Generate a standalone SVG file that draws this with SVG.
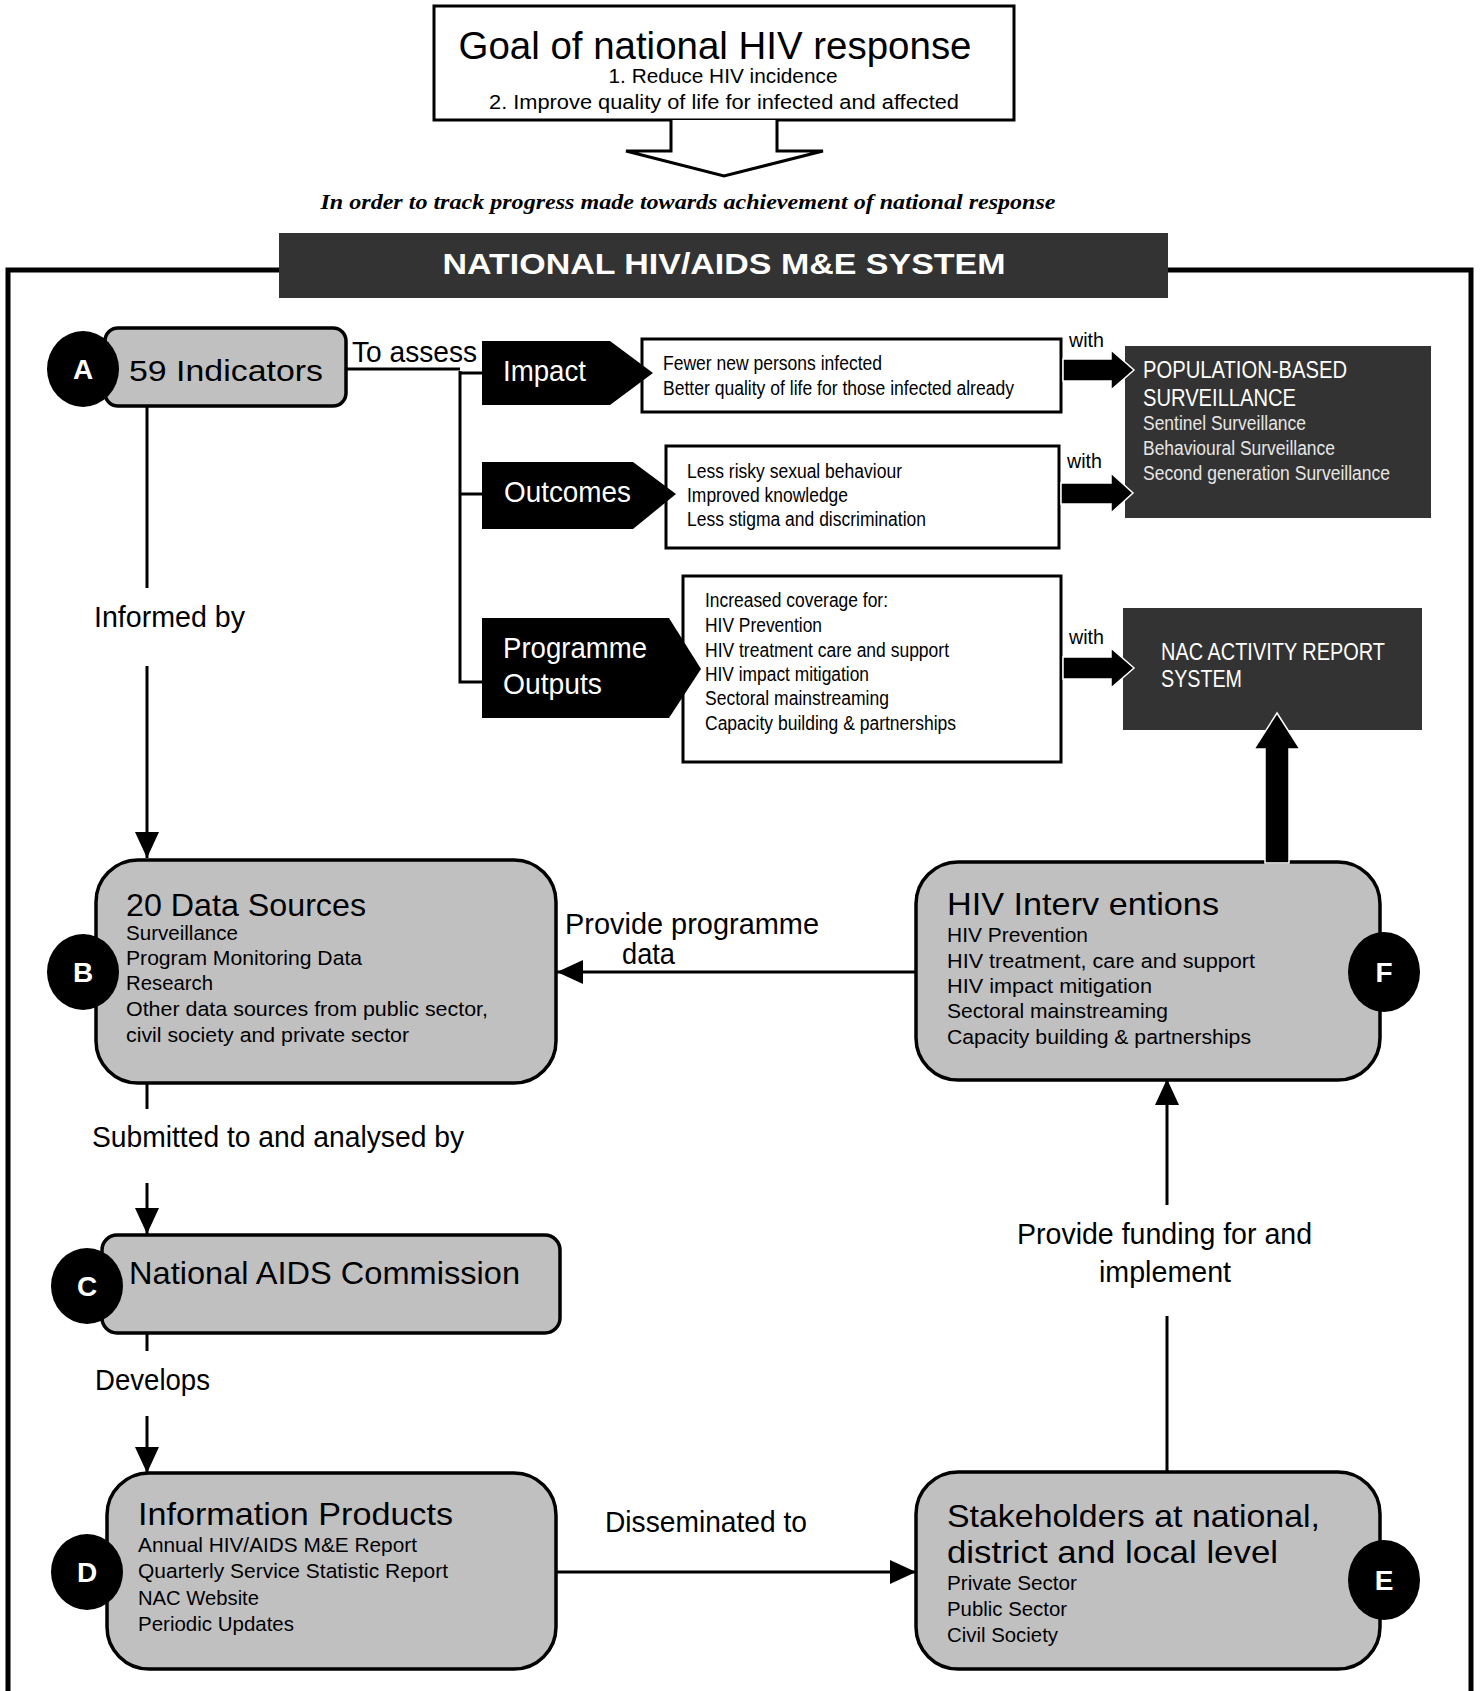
<svg xmlns="http://www.w3.org/2000/svg" width="1480" height="1691" viewBox="0 0 1480 1691">
<style>
text{font-family:"Liberation Sans",Arial,sans-serif;fill:#000}
.lbl{font-size:30px}
.ttl{font-size:32px}
.itm{font-size:20.5px}
.sm{font-size:19.5px}
.w{fill:#fff}
.lt{fill:#e6e6e6}
.node{fill:#c0c0c0;stroke:#000;stroke-width:3.5}
.wbox{fill:#fff;stroke:#000;stroke-width:3}
.dark{fill:#333}
.badge{fill:#000}
.bl{font-size:28px;font-weight:bold;fill:#fff}
.ln{fill:none;stroke:#000;stroke-width:3}
.thick{fill:#000;stroke:#fff;stroke-width:1.5}
</style>
<defs>
<marker id="ah" viewBox="0 0 10 10" refX="10" refY="5" markerWidth="26" markerHeight="24" markerUnits="userSpaceOnUse" orient="auto" preserveAspectRatio="none">
<path d="M0,0 L10,5 L0,10 z" fill="#000"/>
</marker>
</defs>
<rect width="1480" height="1691" fill="#fff"/>

<!-- outer frame -->
<path d="M8,1700 V270 H1471 V1700" fill="none" stroke="#000" stroke-width="5"/>

<!-- goal -->
<g id="goal">
<rect x="434" y="6" width="580" height="114" fill="#fff" stroke="#000" stroke-width="3"/>
<text x="715" y="59" text-anchor="middle" font-size="38" textLength="513" lengthAdjust="spacingAndGlyphs">Goal of national HIV response</text>
<text x="723" y="83" text-anchor="middle" font-size="20" textLength="229" lengthAdjust="spacingAndGlyphs">1. Reduce HIV incidence</text>
<text x="724" y="109" text-anchor="middle" font-size="20" textLength="470" lengthAdjust="spacingAndGlyphs">2. Improve quality of life for infected and affected</text>
</g>
<g id="goal-arrow">
<path d="M671,120 V151 H626 L724,176 L823,151 H777 V120" fill="#fff" stroke="#000" stroke-width="3"/>
</g>
<text x="688" y="209" text-anchor="middle" style="font-family:'Liberation Serif','Times New Roman',serif;font-style:italic;font-weight:bold;font-size:22px" textLength="735" lengthAdjust="spacingAndGlyphs">In order to track progress made towards achievement of national response</text>

<!-- header -->
<g id="header">
<rect x="279" y="233" width="889" height="65" class="dark"/>
<text x="724" y="274" text-anchor="middle" class="w" font-size="30" font-weight="bold" textLength="563" lengthAdjust="spacingAndGlyphs">NATIONAL HIV/AIDS M&amp;E SYSTEM</text>
</g>

<!-- connectors -->
<g id="connectors">
<path class="ln" d="M346,369 H460"/>
<path class="ln" d="M460,371 V682 H484"/>
<path class="ln" d="M460,373 H484"/>
<path class="ln" d="M460,494 H484"/>
<path class="ln" d="M147,406 V588"/>
<path class="ln" d="M147,666 V858" marker-end="url(#ah)"/>
<path class="ln" d="M147,1083 V1109"/>
<path class="ln" d="M147,1183 V1234" marker-end="url(#ah)"/>
<path class="ln" d="M147,1333 V1351"/>
<path class="ln" d="M147,1416 V1473" marker-end="url(#ah)"/>
<path class="ln" d="M556,1572 H916" marker-end="url(#ah)"/>
<path class="ln" d="M1167,1472 V1316"/>
<path class="ln" d="M1167,1205 V1079" marker-end="url(#ah)"/>
<path class="ln" d="M916,972 H557" marker-end="url(#ah)"/>
</g>

<!-- labels -->
<g id="labels">
<text x="352" y="362" class="lbl" textLength="125" lengthAdjust="spacingAndGlyphs">To assess</text>
<text x="94" y="627" class="lbl" textLength="151" lengthAdjust="spacingAndGlyphs">Informed by</text>
<text x="92" y="1147" class="lbl" textLength="372" lengthAdjust="spacingAndGlyphs">Submitted to and analysed by</text>
<text x="95" y="1390" class="lbl" textLength="115" lengthAdjust="spacingAndGlyphs">Develops</text>
<text x="605" y="1532" class="lbl" textLength="202" lengthAdjust="spacingAndGlyphs">Disseminated to</text>
<text x="565" y="934" class="lbl" textLength="254" lengthAdjust="spacingAndGlyphs">Provide  programme</text>
<text x="622" y="964" class="lbl" textLength="53" lengthAdjust="spacingAndGlyphs">data</text>
<text x="1017" y="1244" class="lbl" textLength="295" lengthAdjust="spacingAndGlyphs">Provide funding for and</text>
<text x="1099" y="1282" class="lbl" textLength="132" lengthAdjust="spacingAndGlyphs">implement</text>
<text x="1069" y="347" class="sm" textLength="35" lengthAdjust="spacingAndGlyphs">with</text>
<text x="1067" y="468" class="sm" textLength="35" lengthAdjust="spacingAndGlyphs">with</text>
<text x="1069" y="644" class="sm" textLength="35" lengthAdjust="spacingAndGlyphs">with</text>
</g>

<!-- Impact -->
<g id="impact-box">
<rect x="642" y="339" width="419" height="73" class="wbox"/>
<text x="663" y="370" class="sm" textLength="219" lengthAdjust="spacingAndGlyphs">Fewer new persons infected</text>
<text x="663" y="395" class="sm" textLength="351" lengthAdjust="spacingAndGlyphs">Better quality of life for those infected already</text>
</g>
<g id="impact">
<path d="M482,341 H610 L653,373 L610,405 H482 z" fill="#000"/>
<text x="503" y="381" class="lbl w" textLength="83" lengthAdjust="spacingAndGlyphs">Impact</text>
</g>

<!-- Outcomes -->
<g id="outcomes-box">
<rect x="666" y="446" width="393" height="102" class="wbox"/>
<text x="687" y="478" class="sm" textLength="215" lengthAdjust="spacingAndGlyphs">Less risky sexual behaviour</text>
<text x="687" y="502" class="sm" textLength="161" lengthAdjust="spacingAndGlyphs">Improved knowledge</text>
<text x="687" y="526" class="sm" textLength="239" lengthAdjust="spacingAndGlyphs">Less stigma and discrimination</text>
</g>
<g id="outcomes">
<path d="M482,462 H633 L676,494 L633,529 H482 z" fill="#000"/>
<text x="504" y="502" class="lbl w" textLength="127" lengthAdjust="spacingAndGlyphs">Outcomes</text>
</g>

<!-- Programme outputs -->
<g id="outputs-box">
<rect x="683" y="576" width="378" height="186" class="wbox"/>
<text x="705" y="607" class="sm" textLength="183" lengthAdjust="spacingAndGlyphs">Increased coverage for:</text>
<text x="705" y="632" class="sm" textLength="117" lengthAdjust="spacingAndGlyphs">HIV Prevention</text>
<text x="705" y="657" class="sm" textLength="244" lengthAdjust="spacingAndGlyphs">HIV treatment care and support</text>
<text x="705" y="681" class="sm" textLength="164" lengthAdjust="spacingAndGlyphs">HIV impact mitigation</text>
<text x="705" y="705" class="sm" textLength="184" lengthAdjust="spacingAndGlyphs">Sectoral mainstreaming</text>
<text x="705" y="730" class="sm" textLength="251" lengthAdjust="spacingAndGlyphs">Capacity building &amp; partnerships</text>
</g>
<g id="outputs">
<path d="M482,618 H669 L701,669 L669,718 H482 z" fill="#000"/>
<text x="503" y="658" class="lbl w" textLength="144" lengthAdjust="spacingAndGlyphs">Programme</text>
<text x="503" y="694" class="lbl w" textLength="99" lengthAdjust="spacingAndGlyphs">Outputs</text>
</g>

<!-- Population-based surveillance -->
<g id="pop-surveillance">
<rect x="1125" y="346" width="306" height="172" class="dark"/>
<text x="1143" y="378" class="w" font-size="23" textLength="204" lengthAdjust="spacingAndGlyphs">POPULATION-BASED</text>
<text x="1143" y="406" class="w" font-size="23" textLength="153" lengthAdjust="spacingAndGlyphs">SURVEILLANCE</text>
<text x="1143" y="430" class="sm lt" textLength="163" lengthAdjust="spacingAndGlyphs">Sentinel Surveillance</text>
<text x="1143" y="455" class="sm lt" textLength="192" lengthAdjust="spacingAndGlyphs">Behavioural Surveillance</text>
<text x="1143" y="480" class="sm lt" textLength="247" lengthAdjust="spacingAndGlyphs">Second generation Surveillance</text>
</g>

<!-- NAC activity report system -->
<g id="nac-report">
<rect x="1123" y="608" width="299" height="122" class="dark"/>
<text x="1161" y="660" class="w" font-size="23" textLength="224" lengthAdjust="spacingAndGlyphs">NAC ACTIVITY REPORT</text>
<text x="1161" y="687" class="w" font-size="23" textLength="81" lengthAdjust="spacingAndGlyphs">SYSTEM</text>
</g>

<!-- A -->
<g id="node-a">
<rect x="105" y="328" width="241" height="78" rx="13" class="node"/>
<ellipse cx="83" cy="369" rx="36" ry="38" class="badge"/>
<text x="83" y="379" text-anchor="middle" class="bl">A</text>
<text x="129" y="381" class="lbl" textLength="194" lengthAdjust="spacingAndGlyphs">59 Indicators</text>
</g>

<!-- B -->
<g id="node-b">
<rect x="96" y="860" width="460" height="223" rx="42" class="node"/>
<ellipse cx="83" cy="972" rx="36" ry="38" class="badge"/>
<text x="83" y="982" text-anchor="middle" class="bl">B</text>
<text x="126" y="916" class="ttl" textLength="240" lengthAdjust="spacingAndGlyphs">20 Data Sources</text>
<text x="126" y="940" class="itm" textLength="112" lengthAdjust="spacingAndGlyphs">Surveillance</text>
<text x="126" y="965" class="itm" textLength="236" lengthAdjust="spacingAndGlyphs">Program Monitoring Data</text>
<text x="126" y="990" class="itm" textLength="87" lengthAdjust="spacingAndGlyphs">Research</text>
<text x="126" y="1016" class="itm" textLength="362" lengthAdjust="spacingAndGlyphs">Other data sources from public sector,</text>
<text x="126" y="1042" class="itm" textLength="283" lengthAdjust="spacingAndGlyphs">civil society and private sector</text>
</g>

<!-- C -->
<g id="node-c">
<rect x="102" y="1235" width="458" height="98" rx="15" class="node"/>
<ellipse cx="87" cy="1286" rx="36" ry="38" class="badge"/>
<text x="87" y="1296" text-anchor="middle" class="bl">C</text>
<text x="129" y="1284" class="ttl" textLength="391" lengthAdjust="spacingAndGlyphs">National  AIDS Commission</text>
</g>

<!-- D -->
<g id="node-d">
<rect x="107" y="1473" width="449" height="196" rx="42" class="node"/>
<ellipse cx="87" cy="1572" rx="36" ry="38" class="badge"/>
<text x="87" y="1582" text-anchor="middle" class="bl">D</text>
<text x="138" y="1525" class="ttl" textLength="315" lengthAdjust="spacingAndGlyphs">Information Products</text>
<text x="138" y="1552" class="itm" textLength="279" lengthAdjust="spacingAndGlyphs">Annual HIV/AIDS M&amp;E Report</text>
<text x="138" y="1578" class="itm" textLength="310" lengthAdjust="spacingAndGlyphs">Quarterly Service Statistic Report</text>
<text x="138" y="1605" class="itm" textLength="121" lengthAdjust="spacingAndGlyphs">NAC Website</text>
<text x="138" y="1631" class="itm" textLength="156" lengthAdjust="spacingAndGlyphs">Periodic Updates</text>
</g>

<!-- E -->
<g id="node-e">
<rect x="916" y="1472" width="464" height="197" rx="42" class="node"/>
<ellipse cx="1384" cy="1580" rx="36" ry="40" class="badge"/>
<text x="1384" y="1590" text-anchor="middle" class="bl">E</text>
<text x="947" y="1527" class="ttl" textLength="373" lengthAdjust="spacingAndGlyphs">Stakeholders at national,</text>
<text x="947" y="1563" class="ttl" textLength="331" lengthAdjust="spacingAndGlyphs">district and local level</text>
<text x="947" y="1590" class="itm" textLength="130" lengthAdjust="spacingAndGlyphs">Private Sector</text>
<text x="947" y="1616" class="itm" textLength="120" lengthAdjust="spacingAndGlyphs">Public Sector</text>
<text x="947" y="1642" class="itm" textLength="111" lengthAdjust="spacingAndGlyphs">Civil Society</text>
</g>

<!-- F -->
<g id="node-f">
<rect x="916" y="862" width="464" height="218" rx="42" class="node"/>
<ellipse cx="1384" cy="972" rx="36" ry="40" class="badge"/>
<text x="1384" y="982" text-anchor="middle" class="bl">F</text>
<text x="947" y="915" class="ttl" textLength="272" lengthAdjust="spacingAndGlyphs">HIV Interv entions</text>
<text x="947" y="942" class="itm" textLength="141" lengthAdjust="spacingAndGlyphs">HIV Prevention</text>
<text x="947" y="968" class="itm" textLength="308" lengthAdjust="spacingAndGlyphs">HIV treatment, care and support</text>
<text x="947" y="993" class="itm" textLength="205" lengthAdjust="spacingAndGlyphs">HIV impact mitigation</text>
<text x="947" y="1018" class="itm" textLength="221" lengthAdjust="spacingAndGlyphs">Sectoral mainstreaming</text>
<text x="947" y="1044" class="itm" textLength="304" lengthAdjust="spacingAndGlyphs">Capacity building &amp; partnerships</text>
</g>

<!-- thick block arrows drawn on top of boxes -->
<g id="connectors-thick">
<path class="thick" d="M1063,359 H1111 V350 L1134,370 L1111,390 V381 H1063 z"/>
<path class="thick" d="M1061,483 H1111 V473 L1133,493 L1111,513 V504 H1061 z"/>
<path class="thick" d="M1063,657 H1111 V648 L1134,668 L1111,688 V679 H1063 z"/>
<path class="thick" d="M1265,863 V749 H1254 L1277,713 L1300,749 H1289 V863 z"/>
</g>
</svg>
